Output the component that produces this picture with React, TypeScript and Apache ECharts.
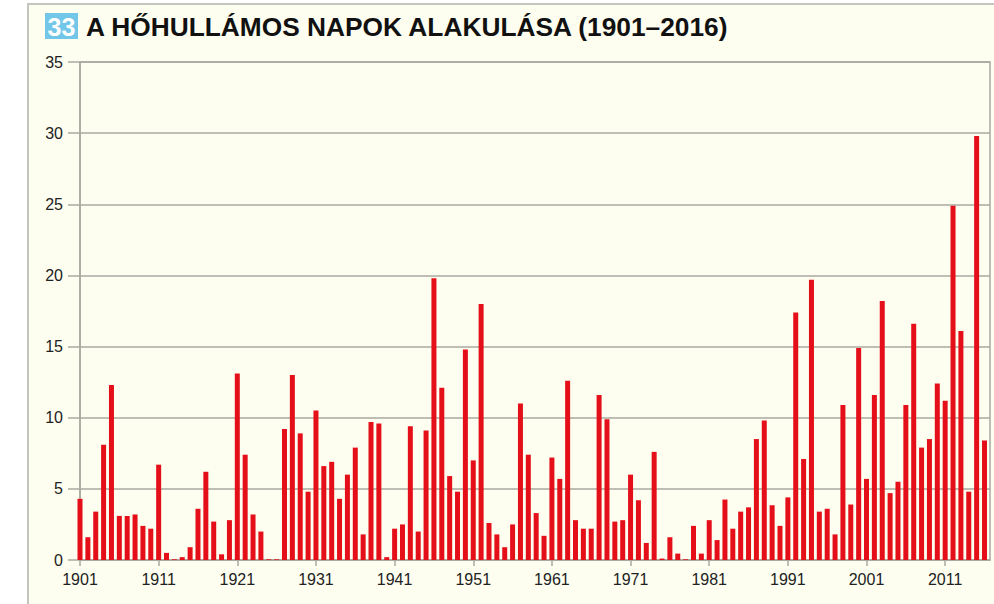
import React, { useEffect, useRef } from "react";
import * as echarts from "echarts";

const startYear = 1901;
const heatwaveDays: number[] = [
  4.3, 1.6, 3.4, 8.1, 12.3, 3.1, 3.1, 3.2, 2.4, 2.2,
  6.7, 0.5, 0.05, 0.2, 0.9, 3.6, 6.2, 2.7, 0.4, 2.8,
  13.1, 7.4, 3.2, 2.0, 0.05, 0.05, 9.2, 13.0, 8.9, 4.8,
  10.5, 6.6, 6.9, 4.3, 6.0, 7.9, 1.8, 9.7, 9.6, 0.2,
  2.2, 2.5, 9.4, 2.0, 9.1, 19.8, 12.1, 5.9, 4.8, 14.8,
  7.0, 18.0, 2.6, 1.8, 0.9, 2.5, 11.0, 7.4, 3.3, 1.7,
  7.2, 5.7, 12.6, 2.8, 2.2, 2.2, 11.6, 9.9, 2.7, 2.8,
  6.0, 4.2, 1.2, 7.6, 0.1, 1.6, 0.45, 0.05, 2.4, 0.45,
  2.8, 1.4, 4.25, 2.2, 3.4, 3.7, 8.5, 9.8, 3.85, 2.4,
  4.4, 17.4, 7.1, 19.7, 3.4, 3.6, 1.8, 10.9, 3.9, 14.9,
  5.7, 11.6, 18.2, 4.7, 5.5, 10.9, 16.6, 7.9, 8.5, 12.4,
  11.2, 24.9, 16.1, 4.8, 29.8, 8.4,
];
const years: number[] = heatwaveDays.map((_, i) => startYear + i);
const titleNumber = "33";
const titleText = "A HŐHULLÁMOS NAPOK ALAKULÁSA (1901–2016)";

export default function App() {
  const ref = useRef<HTMLDivElement>(null);
  useEffect(() => {
    if (!ref.current) return;
    const chart = echarts.init(ref.current, null, { renderer: "svg" });
    const gray = "#a9a9a2";
    const labelFont = "'Liberation Sans Narrow', 'Liberation Sans', Arial, sans-serif";
    chart.setOption({
      animation: false,
      backgroundColor: "#ffffff",
      graphic: [
        {
          type: "rect",
          z: -10,
          shape: { x: 28, y: 4, width: 980, height: 620 },
          style: { fill: "#fefef0", stroke: "#c4c4c0", lineWidth: 2 },
        },
        {
          type: "rect",
          shape: { x: 45, y: 13, width: 33, height: 26 },
          style: { fill: "#72c7e8" },
        },
        {
          type: "text",
          x: 61.5,
          y: 27,
          style: {
            text: titleNumber,
            fill: "#ffffff",
            font: "bold 25px 'Liberation Sans', Arial, sans-serif",
            textAlign: "center",
            textVerticalAlign: "middle",
          },
        },
        {
          type: "text",
          x: 86,
          y: 27,
          style: {
            text: titleText,
            fill: "#111111",
            font: "bold 26.3px 'Liberation Sans', Arial, sans-serif",
            textAlign: "left",
            textVerticalAlign: "middle",
          },
        },
      ],
      grid: {
        left: 80,
        right: 4,
        top: 62,
        bottom: 44,
        show: true,
        borderColor: gray,
        borderWidth: 1.5,
        backgroundColor: "transparent",
      },
      xAxis: {
        type: "value",
        min: 1901,
        max: 2016.7,
        interval: 10,
        axisLine: { show: true, lineStyle: { color: gray, width: 1.5 } },
        axisTick: { show: true, length: 6, lineStyle: { color: gray, width: 1.5 } },
        splitLine: { show: false },
        axisLabel: {
          color: "#222",
          fontSize: 16,
          fontFamily: labelFont,
          margin: 11,
          showMaxLabel: false,
          formatter: (v: number) => String(Math.round(v)),
        },
      },
      yAxis: {
        type: "value",
        min: 0,
        max: 35,
        interval: 5,
        axisLine: { show: true, lineStyle: { color: gray, width: 1.5 } },
        axisTick: { show: true, length: 12, lineStyle: { color: gray, width: 1.5 } },
        splitLine: { show: true, lineStyle: { color: gray, width: 1.5 } },
        axisLabel: {
          color: "#222",
          fontSize: 16,
          fontFamily: labelFont,
          margin: 17,
        },
      },
      series: [
        {
          type: "bar",
          barWidth: 5,
          itemStyle: { color: "#e50f1a" },
          data: years.map((y, i) => [y, heatwaveDays[i]]),
        },
      ],
    });
    return () => chart.dispose();
  }, []);
  return (
    <div
      ref={ref}
      style={{ position: "absolute", left: 0, top: 0, width: 994, height: 604 }}
    />
  );
}
